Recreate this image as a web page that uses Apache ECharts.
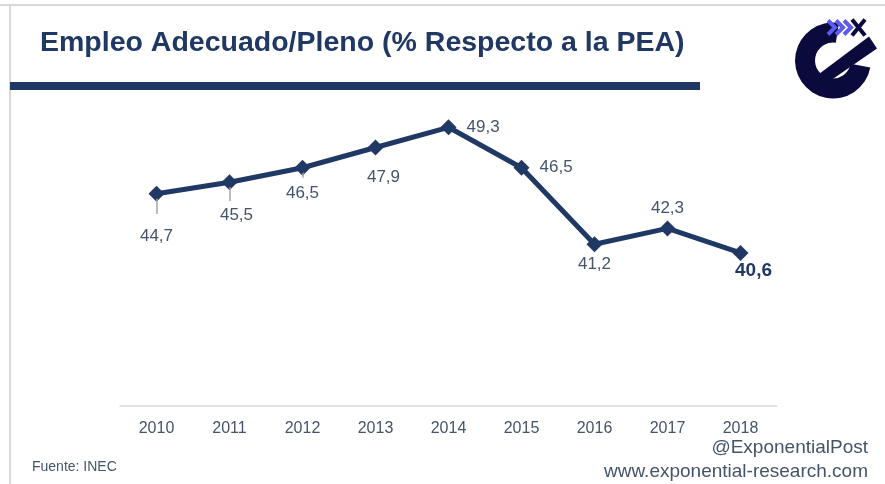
<!DOCTYPE html>
<html>
<head>
<meta charset="utf-8">
<script src="https://cdn.jsdelivr.net/npm/echarts@6/dist/echarts.min.js"></script>
<style>
  html, body { margin: 0; padding: 0; background: #fff; }
  #main { width: 885px; height: 484px; }
</style>
</head>
<body>
<div id="main"></div>
<script>
// datos
const years = ['2010', '2011', '2012', '2013', '2014', '2015', '2016', '2017', '2018']
const empleo = [44.7, 45.5, 46.5, 47.9, 49.3, 46.5, 41.2, 42.3, 40.6]
// posicion de cada etiqueta
const labelPos = ['bottom', 'bottom', 'bottom', 'bottom', 'right', 'right', 'bottom', 'top', 'bottom']
const labelDist = [26, 17, 9, 13, 10, 10, 4, 4, 0]
const labelDx = [0, 7, 0, 8, 0, 0, 0, 0, 13]

const navy = '#1f3864'
const slate = '#44546a'
const font = '"Liberation Sans", Arial, sans-serif'

const chartDom = document.getElementById('main')
const myChart = echarts.init(chartDom)

const seriesData = empleo.map((v, i) => {
  const last = i === empleo.length - 1
  return {
    value: v,
    label: {
      position: labelPos[i],
      distance: labelDist[i],
      offset: [labelDx[i], 0],
      fontSize: last ? 19 : 17,
      fontWeight: last ? 'bold' : 'normal',
      color: last ? navy : slate
    }
  }
})

// lineas guia cortas (2010-2012)
const leaders = [[0, 1.4], [1, 1.3], [2, 0.7]].map(([i, d]) => [
  { coord: [i, empleo[i] - 0.35] },
  { coord: [i, empleo[i] - d] }
])

let option = {
  animation: false,
  grid: { left: 120, right: 108, top: 45, bottom: 78 },
  xAxis: {
    type: 'category',
    data: years,
    boundaryGap: true,
    axisLine: { lineStyle: { color: '#d9d9d9', width: 1.5 } },
    axisTick: { show: false },
    axisLabel: { color: slate, fontSize: 16, fontFamily: font, margin: 15 }
  },
  yAxis: {
    type: 'value',
    min: 30,
    max: 55,
    show: false,
    splitLine: { show: false }
  },
  series: [
    {
      type: 'line',
      data: seriesData,
      symbol: 'diamond',
      symbolSize: 16,
      lineStyle: { color: navy, width: 5 },
      itemStyle: { color: navy },
      label: {
        show: true,
        fontFamily: font,
        formatter: p => p.value.toFixed(1).replace('.', ',')
      },
      markLine: {
        silent: true,
        symbol: 'none',
        label: { show: false },
        lineStyle: { color: '#a6a6a6', width: 1.5, type: 'solid' },
        data: leaders
      }
    }
  ],
  graphic: [
    // marco
    { type: 'line', shape: { x1: 0, y1: 5, x2: 885, y2: 5 }, style: { stroke: '#d9d9d9', lineWidth: 2 } },
    { type: 'line', shape: { x1: 10, y1: 5, x2: 10, y2: 484 }, style: { stroke: '#d9d9d9', lineWidth: 2 } },
    // titulo
    {
      type: 'text', left: 40, top: 29,
      style: { text: 'Empleo Adecuado/Pleno (% Respecto a la PEA)', fill: navy, font: 'bold 28.5px ' + font }
    },
    { type: 'rect', shape: { x: 10, y: 82, width: 690, height: 8 }, style: { fill: navy } },
    // fuente y creditos
    { type: 'text', left: 32, top: 460, style: { text: 'Fuente: INEC', fill: slate, font: '14px ' + font } },
    { type: 'text', right: 17, top: 438, style: { text: '@ExponentialPost', fill: slate, font: '19px ' + font } },
    { type: 'text', right: 17, top: 462, style: { text: 'www.exponential-research.com', fill: slate, font: '19px ' + font } },
    // logo
    {
      type: 'group', left: 795, top: 17,
      children: [
        { type: 'sector', shape: { cx: 38, cy: 42, r: 38, r0: 18, startAngle: Math.PI * 0.06, endAngle: Math.PI * 1.55, clockwise: true }, style: { fill: '#0a0a3c' } },
        { type: 'polygon', shape: { points: [[18, 60], [74, 18], [82, 30], [24, 70]] }, style: { fill: '#0a0a3c' } },
        { type: 'polyline', shape: { points: [[33, 2], [40, 9], [33, 16]] }, style: { stroke: '#5b5bf0', lineWidth: 4, fill: null } },
        { type: 'polyline', shape: { points: [[41, 2], [48, 9], [41, 16]] }, style: { stroke: '#5b5bf0', lineWidth: 4, fill: null } },
        { type: 'polyline', shape: { points: [[49, 2], [56, 9], [49, 16]] }, style: { stroke: '#5b5bf0', lineWidth: 4, fill: null } },
        { type: 'line', shape: { x1: 57, y1: 1, x2: 70, y2: 17 }, style: { stroke: '#0a0a3c', lineWidth: 4 } },
        { type: 'line', shape: { x1: 70, y1: 1, x2: 57, y2: 17 }, style: { stroke: '#0a0a3c', lineWidth: 4 } }
      ]
    }
  ]
}

option && myChart.setOption(option)
</script>
</body>
</html>
